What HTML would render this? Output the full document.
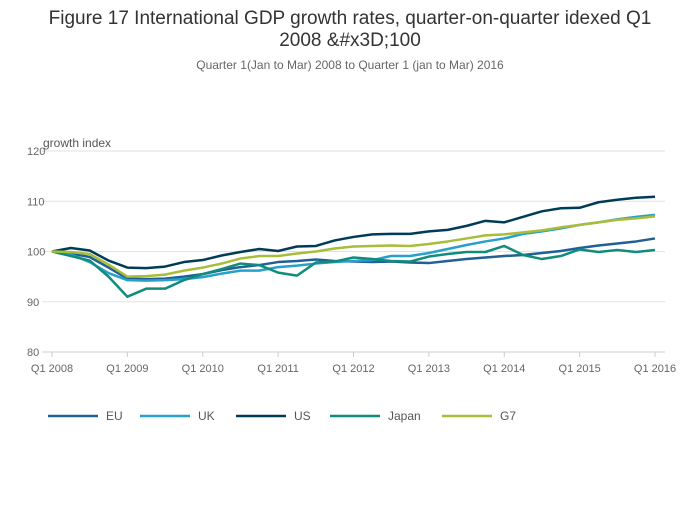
<!DOCTYPE html>
<html><head><meta charset="utf-8"><style>
body{margin:0;background:#fff;font-family:"Liberation Sans",sans-serif;}
</style></head><body>
<svg width="700" height="502" id="c" xmlns="http://www.w3.org/2000/svg">
<text x="350" y="24" text-anchor="middle" font-size="19" fill="#333">Figure 17 International GDP growth rates, quarter-on-quarter idexed Q1</text>
<text x="350" y="46" text-anchor="middle" font-size="19" fill="#333">2008 &amp;#x3D;100</text>
<text x="350" y="69" text-anchor="middle" font-size="12" fill="#666">Quarter 1(Jan to Mar) 2008 to Quarter 1 (jan to Mar) 2016</text>
<text x="43" y="147" font-size="12" fill="#555">growth index</text>
<g id="grid"></g><g id="series"></g><g id="legend"></g>
</svg>
<script>
const yTicks=[80,90,100,110,120];
const xTickLabels=["Q1 2008","Q1 2009","Q1 2010","Q1 2011","Q1 2012","Q1 2013","Q1 2014","Q1 2015","Q1 2016"];
const seriesNames=["EU","UK","US","Japan","G7"];
const seriesColors=["#206095","#27a0cc","#003c57","#118c7b","#a8bd3a"];
const eu=[100,99.6,98.9,96.8,94.6,94.5,94.6,95,95.5,96.3,96.9,97.3,97.9,98.1,98.4,98.1,98,97.9,98,97.8,97.7,98.1,98.5,98.8,99.1,99.3,99.7,100.1,100.7,101.2,101.6,102,102.6];
const uk=[100,99.4,97.9,95.7,94.3,94.2,94.3,94.5,94.9,95.6,96.2,96.2,96.9,97.2,97.6,97.9,98.1,98.3,99.1,99.1,99.7,100.5,101.3,102,102.6,103.5,104,104.6,105.3,105.8,106.4,106.9,107.3];
const us=[100,100.7,100.2,98.2,96.8,96.7,97,97.9,98.3,99.2,99.9,100.5,100.1,101,101.1,102.2,102.9,103.4,103.5,103.5,104,104.3,105.1,106.1,105.8,106.9,108,108.6,108.7,109.8,110.3,110.7,110.9];
const japan=[100,99.1,98.2,95,91,92.6,92.6,94.3,95.5,96.5,97.6,97.3,95.8,95.2,97.8,98,98.8,98.5,98.1,98,99,99.5,99.9,99.9,101.1,99.3,98.5,99.1,100.4,99.9,100.3,99.9,100.3];
const g7=[100,99.9,99.5,97.4,95,95.1,95.4,96.2,96.8,97.6,98.6,99.1,99.1,99.6,100,100.6,101,101.1,101.2,101.1,101.5,102,102.6,103.2,103.4,103.8,104.2,104.8,105.3,105.8,106.3,106.6,107];
const seriesData=[eu,uk,us,japan,g7];
const NS="http://www.w3.org/2000/svg";
const X=i=>52+i*(603/32), Y=v=>352-(v-80)*(201/40);
function mk(t,a,p){const e=document.createElementNS(NS,t);for(const k in a)e.setAttribute(k,a[k]);p.appendChild(e);return e;}
const grid=document.getElementById('grid');
yTicks.forEach(v=>{
 const l=mk('line',{x1:42,x2:665,y1:Y(v),y2:Y(v),stroke:v===80?'#ccc':'#e2e2e2','stroke-width':1},grid);
 
 
 const t=mk('text',{x:27,y:Y(v)+4,'font-size':11,fill:'#666'},grid);t.textContent=v;
 
 
});
xTickLabels.forEach((s,i)=>{
 const x=X(i*4);
 const tk=mk('line',{x1:x,x2:x,y1:352,y2:357,stroke:'#ccc'},grid);
 
 
 const t=mk('text',{x:x,y:372,'font-size':11,fill:'#666','text-anchor':'middle'},grid);t.textContent=s;
 
 
});
const sg=document.getElementById('series'),lg=document.getElementById('legend');
const legX=[48,140,236,330,442];
seriesData.forEach((d,k)=>{
 const p=mk('polyline',{points:d.map((v,i)=>X(i)+','+Y(v)).join(' '),fill:'none',stroke:seriesColors[k],'stroke-width':2.5,'stroke-linejoin':'round'},sg);
 
 
 const g=mk('g',{},lg);
 
 
 mk('line',{x1:legX[k],x2:legX[k]+50,y1:416,y2:416,stroke:seriesColors[k],'stroke-width':2.5},g);
 const t=mk('text',{x:legX[k]+58,y:420,'font-size':12,fill:'#555'},g);t.textContent=seriesNames[k];
});
</script>
</body></html>
